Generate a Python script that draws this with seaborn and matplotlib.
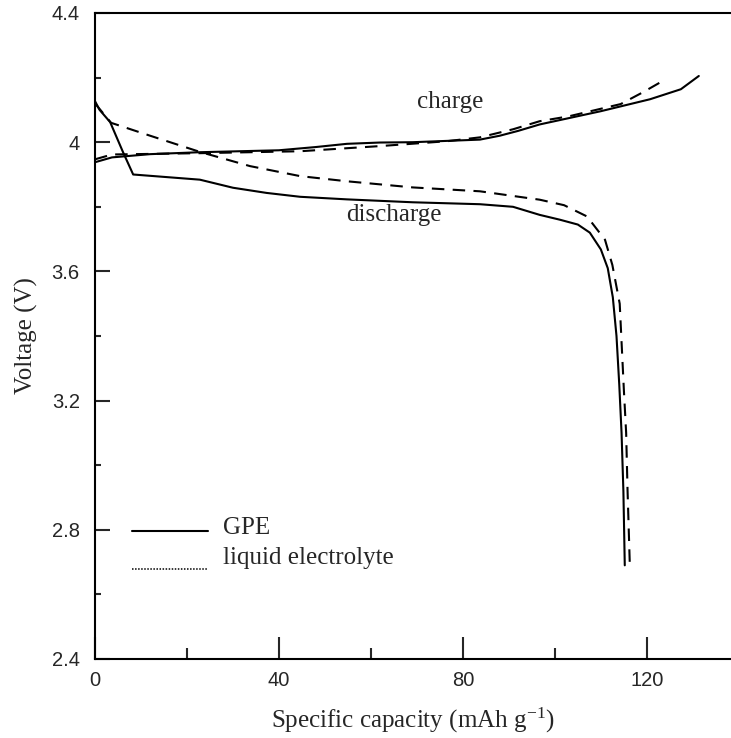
import numpy as np
import pandas as pd
import matplotlib
matplotlib.use("Agg")
import matplotlib.pyplot as plt
from matplotlib.lines import Line2D
from matplotlib.ticker import MultipleLocator, FuncFormatter
import seaborn as sns

# GPE cell, charge curve
gpe_chg_x = [0, 3.7, 12, 22.8, 40, 48, 54.8, 62, 69.1, 83.7, 88, 92, 96.7, 110, 120.7, 127.4, 131.3]
gpe_chg_v = [3.938, 3.953, 3.963, 3.969, 3.975, 3.985, 3.995, 3.999, 4.0, 4.008, 4.02, 4.035, 4.055, 4.096, 4.133, 4.164, 4.205]

# liquid electrolyte cell, charge curve
liq_chg_x = [0, 3.7, 22.8, 44.6, 62, 76.5, 83.7, 90.9, 96.7, 103, 114.3, 119.2, 123.5]
liq_chg_v = [3.947, 3.962, 3.966, 3.972, 3.988, 4.003, 4.015, 4.04, 4.065, 4.08, 4.118, 4.155, 4.19]

# GPE cell, discharge curve
gpe_dis_x = [0, 1, 3.3, 6.1, 8.3, 22.8, 30, 37.3, 44.6, 54.8, 69.1, 83.7, 90.9, 96.7, 101.1,
             105, 107.6, 110.0, 111.5, 112.6, 113.4, 114.0, 114.5, 114.9, 115.2]
gpe_dis_v = [4.127, 4.10, 4.062, 3.969, 3.90, 3.884, 3.859, 3.843, 3.831, 3.823, 3.814, 3.808, 3.80, 3.775, 3.76,
             3.745, 3.72, 3.668, 3.61, 3.52, 3.40, 3.25, 3.10, 2.92, 2.69]

# liquid electrolyte cell, discharge curve
liq_dis_x = [0, 3.5, 12, 22.8, 33.7, 44.6, 54.8, 69.1, 83.7, 96.7, 102, 107, 110.9,
             112.5, 114.1, 115.0, 115.5, 115.8, 116.3]
liq_dis_v = [4.12, 4.06, 4.02, 3.97, 3.926, 3.895, 3.879, 3.86, 3.848, 3.822, 3.805, 3.77, 3.698,
             3.62, 3.50, 3.234, 3.10, 2.924, 2.69]

x_major = [0, 40, 80, 120]
y_major = [2.4, 2.8, 3.2, 3.6, 4.0, 4.4]

sns.set_style("ticks")
serif = ["Liberation Serif", "DejaVu Serif"]
plt.rcParams["font.family"] = serif
plt.rcParams["mathtext.fontset"] = "stix"

fig = plt.figure(figsize=(7.31, 7.38), dpi=100)
ax = fig.add_axes([95 / 731, 79 / 738, 636 / 731, 646 / 738])

dash = (0, (6, 4))
sns.lineplot(x=gpe_chg_x, y=gpe_chg_v, sort=False, estimator=None, color="black", lw=1.5, ax=ax)
sns.lineplot(x=gpe_dis_x, y=gpe_dis_v, sort=False, estimator=None, color="black", lw=1.5, ax=ax)
sns.lineplot(x=liq_chg_x, y=liq_chg_v, sort=False, estimator=None, color="black", lw=1.5,
             linestyle=dash, ax=ax)
sns.lineplot(x=liq_dis_x, y=liq_dis_v, sort=False, estimator=None, color="black", lw=1.5,
             linestyle=dash, ax=ax)

ax.set_xlim(0, 138.3)
ax.set_ylim(2.4, 4.4)
ax.set_xticks(x_major)
ax.set_yticks(y_major)
ax.xaxis.set_minor_locator(MultipleLocator(20))
ax.yaxis.set_minor_locator(MultipleLocator(0.2))
ax.yaxis.set_major_formatter(FuncFormatter(lambda v, p: f"{v:g}"))

for s in ["left", "bottom", "top"]:
    ax.spines[s].set_linewidth(1.5)
    ax.spines[s].set_color("black")
ax.spines["right"].set_visible(False)

ax.tick_params(axis="x", which="major", direction="in", length=16, width=1.5, pad=9)
ax.tick_params(axis="x", which="minor", direction="in", length=8, width=1.5)
ax.tick_params(axis="y", which="major", direction="in", length=11, width=1.5, pad=11)
ax.tick_params(axis="y", which="minor", direction="in", length=4, width=1.5)
for lab in ax.get_xticklabels() + ax.get_yticklabels():
    lab.set_family(["Liberation Sans Narrow", "Liberation Sans", "DejaVu Sans"])
    lab.set_fontsize(14.5)

ax.set_xlabel(r"Specific capacity (mAh g$^{\mathregular{-1}}$)", fontsize=18, labelpad=11)
ax.set_ylabel("Voltage (V)", fontsize=18, labelpad=10)

ax.text(77.2, 4.124, "charge", ha="center", va="center", fontsize=18)
ax.text(65, 3.776, "discharge", ha="center", va="center", fontsize=18)

handles = [Line2D([], [], color="black", lw=1.5),
           Line2D([], [], color="black", lw=1.1, linestyle=(0, (1, 1)))]
leg = ax.legend(handles, ["GPE", "liquid electrolyte"], loc="upper left",
                bbox_to_anchor=(0.058, 0.220), frameon=False, fontsize=18,
                handlelength=3.05, handletextpad=0.6, labelspacing=0.30,
                borderpad=0, borderaxespad=0)
# the original legend has its line samples sitting below the labels
legl = leg.get_lines()
legl[0].set_ydata(np.asarray(legl[0].get_ydata()) - 3.6)
legl[1].set_ydata(np.asarray(legl[1].get_ydata()) - 9.4)

fig.savefig("out.png", dpi=100)
